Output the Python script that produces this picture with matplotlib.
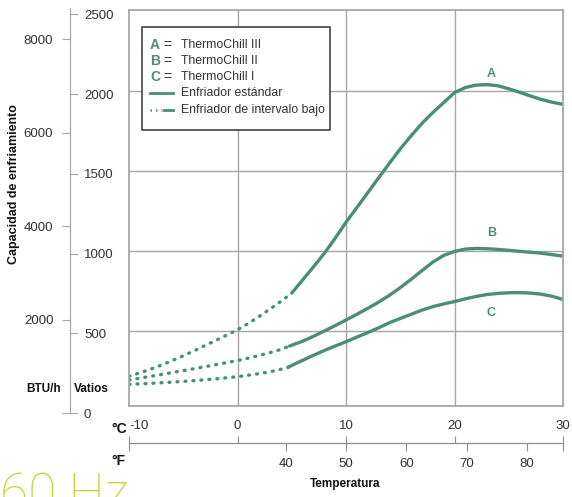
import matplotlib
matplotlib.use('Agg')
import matplotlib.pyplot as plt
from matplotlib.lines import Line2D
from matplotlib.patches import Rectangle

plt.rcParams['font.family'] = ['Liberation Sans', 'DejaVu Sans']

# --- data (temperature in degC, capacity in W) ---
temp_a_low = [-10, -9, -8, -7, -6, -5, -4, -3, -2, -1, 0, 1, 2, 3, 4, 5]
cap_a_low = [214, 236, 259, 285, 313, 343, 374, 407, 439, 472, 506, 546, 590, 636, 684, 736]
temp_a_std = [5, 6, 7, 8, 9, 10, 11, 12, 13, 14, 15, 16, 17, 18, 19, 20,
              21, 22, 23, 24, 25, 26, 27, 28, 29, 30]
cap_a_std = [736, 818, 900, 985, 1080, 1180, 1272, 1365, 1458, 1550, 1640, 1722, 1800, 1868, 1930, 1993,
             2025, 2040, 2043, 2036, 2017, 1995, 1972, 1950, 1933, 1919]

temp_b_low = [-10, -8, -6, -4, -2, 0, 1, 2, 3, 4, 4.8]
cap_b_low = [191, 214, 238, 262, 287, 313, 328, 345, 363, 383, 404]
temp_b_std = [4.8, 6, 7, 8, 9, 10, 11, 12, 13, 14, 15, 16, 17, 18, 19, 20,
              21, 22, 23, 24, 25, 26, 27, 28, 29, 30]
cap_b_std = [404, 434, 465, 498, 532, 567, 603, 640, 679, 722, 770, 822, 877, 930, 972, 997,
             1012, 1016, 1014, 1010, 1004, 998, 992, 986, 977, 968]

temp_c_low = [-10, -8, -6, -4, -2, 0, 1, 2, 3, 4, 4.7]
cap_c_low = [164, 170, 178, 187, 198, 212, 221, 231, 243, 258, 272]
temp_c_std = [4.7, 5.3, 6, 7, 8, 9, 10, 11, 12, 13, 14, 15, 16, 17, 18, 19, 20,
              21, 22, 23, 24, 25, 26, 27, 28, 29, 30]
cap_c_std = [272, 292, 314, 346, 376, 404, 431, 460, 488, 518, 550, 577, 603, 629, 651, 668, 683,
             700, 715, 727, 734, 738, 739, 736, 729, 716, 696]

curve_labels = ['A', 'B', 'C']
label_pos = [(23.4, 2110), (23.4, 1113), (23.4, 611)]
legend_names = ['ThermoChill III', 'ThermoChill II', 'ThermoChill I']
legend_lines = ['Enfriador estándar', 'Enfriador de intervalo bajo']

celsius_ticks = [-10, 0, 10, 20, 30]
fahr_ticks = [14, 40, 50, 60, 70, 80, 86]
fahr_labels = ['', '40', '50', '60', '70', '80', '']
watt_ticks = [0, 500, 1000, 1500, 2000, 2500]
btu_ticks = [0, 2000, 4000, 6000, 8000]
btu_labels = ['', '2000', '4000', '6000', '8000']
BTU_PER_W = 3.412

GREEN = '#4b8f73'
GRID = '#a6a6a6'
TEXT = '#333333'
LIME = '#c5d43c'

W_PX, H_PX = 572, 497


def fx(px):
    return px / W_PX


def fy(py):
    return 1 - py / H_PX


fig = plt.figure(figsize=(5.72, 4.97), dpi=100)

# main plot
ax = fig.add_axes([fx(129), fy(406), 434 / W_PX, 396 / H_PX])
ax.set_xlim(-10, 30)
ax.set_ylim(28, 2511)
ax.set_xticks([0, 10, 20])
ax.set_yticks([500, 1000, 1500, 2000])
ax.grid(True, color=GRID, lw=1)
ax.tick_params(length=0, labelbottom=False, labelleft=False)
for s in ax.spines.values():
    s.set_color(GRID)
    s.set_linewidth(1.3)

dots = (0, (0.3, 2.1))
for tl, cl, ts, cs in [(temp_a_low, cap_a_low, temp_a_std, cap_a_std),
                       (temp_b_low, cap_b_low, temp_b_std, cap_b_std),
                       (temp_c_low, cap_c_low, temp_c_std, cap_c_std)]:
    ax.plot(tl, cl, color=GREEN, lw=2.4, linestyle=dots, dash_capstyle='round')
    ax.plot(ts, cs, color=GREEN, lw=2.4, solid_capstyle='round', solid_joinstyle='round')

for lab, (x, y) in zip(curve_labels, label_pos):
    ax.text(x, y, lab, color=GREEN, fontsize=9, fontweight='bold', ha='center', va='center')

# left capacity scales
axl = fig.add_axes([fx(70), fy(413), 0.0001, 405 / H_PX])
axl.set_ylim(0, 405 / 0.1595)
axl.set_xticks([])
for k in ['top', 'bottom', 'right']:
    axl.spines[k].set_visible(False)
axl.spines['left'].set_color(GRID)
axl.yaxis.tick_right()
axl.set_yticks(watt_ticks)
axl.tick_params(axis='y', direction='out', length=6, color=GRID, pad=4,
                labelsize=9.5, labelcolor=TEXT)
sec = axl.secondary_yaxis('left', functions=(lambda w: w * BTU_PER_W, lambda b: b / BTU_PER_W))
sec.set_yticks(btu_ticks, labels=btu_labels)
sec.tick_params(direction='out', length=6, color=GRID, pad=6, labelsize=9.5, labelcolor=TEXT)
sec.spines['left'].set_color(GRID)

# temperature scales
axb = fig.add_axes([fx(129), fy(443), 434 / W_PX, 0.0001])
axb.set_xlim(-10, 30)
axb.set_yticks([])
for k in ['left', 'right', 'bottom']:
    axb.spines[k].set_visible(False)
axb.spines['top'].set_color('#8c8c8c')
axb.xaxis.tick_top()
axb.set_xticks(celsius_ticks, labels=[str(c) for c in celsius_ticks])
axb.tick_params(axis='x', direction='out', length=5, color='#8c8c8c', pad=3,
                labelsize=9.5, labelcolor=TEXT)
axb.get_xticklabels()[0].set_ha('left')
secf = axb.secondary_xaxis('bottom', functions=(lambda c: c * 9 / 5 + 32, lambda f: (f - 32) * 5 / 9))
secf.set_xticks(fahr_ticks, labels=fahr_labels)
secf.tick_params(direction='out', length=6, color='#8c8c8c', pad=5, labelsize=9.5, labelcolor=TEXT)
secf.spines['bottom'].set_color('#8c8c8c')

# axis titles
bold = dict(fontweight='bold', color='#111111', fontsize=8.5)
fig.text(fx(14), fy(184), 'Capacidad de enfriamiento', rotation=90, ha='center', va='center',
         fontweight='bold', color='#111111', fontsize=9)
fig.text(fx(44), fy(389), 'BTU/h', ha='center', va='center', **bold)
fig.text(fx(91.5), fy(389), 'Vatios', ha='center', va='center', **bold)
fig.text(fx(127), fy(429), '°C', ha='right', va='center', fontweight='bold', color='#111111', fontsize=10)
fig.text(fx(126), fy(461), '°F', ha='right', va='center', fontweight='bold', color='#111111', fontsize=10)
fig.text(fx(345), fy(484), 'Temperatura', ha='center', va='center', **bold)
fig.text(fx(0), fy(510), '60 Hz', fontsize=37, color=LIME, family='Roboto', fontweight='light',
         ha='left', va='baseline')

# legend box
fig.add_artist(Rectangle((fx(142), fy(130)), (330 - 142) / W_PX, (130 - 27) / H_PX,
                         transform=fig.transFigure, facecolor='white', edgecolor='#333333',
                         lw=1.1, zorder=5))
for i, name in enumerate(legend_names):
    yy = fy(45 + 16 * i)
    fig.text(fx(150), yy, curve_labels[i], color=GREEN, fontweight='bold', fontsize=10,
             va='center', zorder=6)
    fig.text(fx(163), yy, '=', color=TEXT, fontsize=10, va='center', zorder=6)
    fig.text(fx(181), yy, name, color=TEXT, fontsize=8.8, va='center', zorder=6)
fig.add_artist(Line2D([fx(150), fx(173)], [fy(93), fy(93)], transform=fig.transFigure,
                      color=GREEN, lw=2, zorder=6))
fig.add_artist(Line2D([fx(150), fx(162)], [fy(110), fy(110)], transform=fig.transFigure,
                      color=GREEN, lw=2, linestyle=(0, (0.5, 1.5)), zorder=6))
fig.add_artist(Line2D([fx(164), fx(173)], [fy(110), fy(110)], transform=fig.transFigure,
                      color=GREEN, lw=2, zorder=6))
for i, txt in enumerate(legend_lines):
    fig.text(fx(181), fy(93 + 17 * i), txt, color=TEXT, fontsize=8.8, va='center', zorder=6)

fig.savefig('out.png', dpi=100)
